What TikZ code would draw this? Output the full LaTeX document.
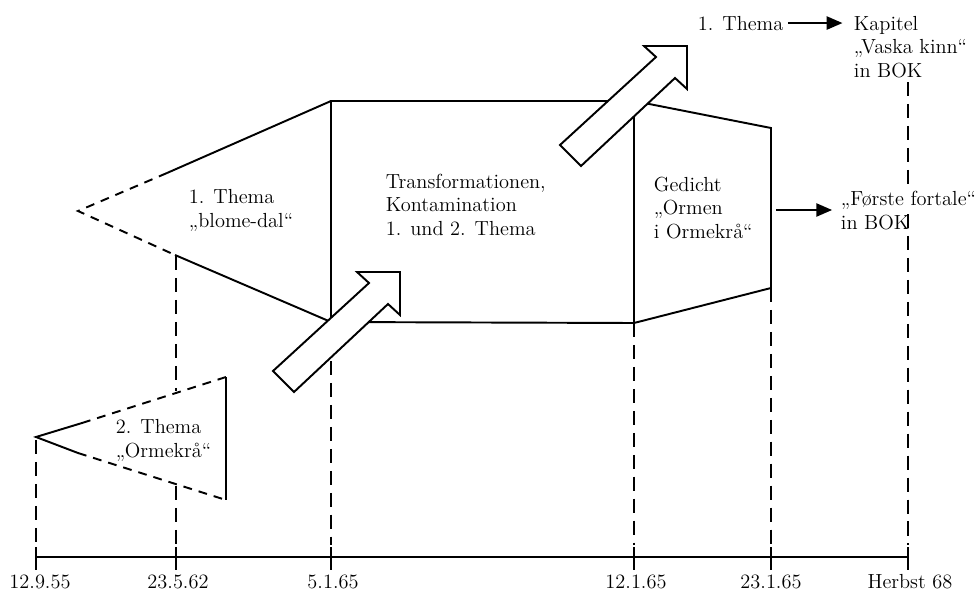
\documentclass[tikz,border=0pt]{standalone}
\usetikzlibrary{arrows.meta,positioning}

\begin{document}
\begin{tikzpicture}[x=0.02cm, y=-0.02cm, line width=1.1pt, font=\fontsize{11.6pt}{13.2pt}\selectfont]
    % Set up styles for lines and labels
    \tikzstyle{guideline} = [line width=1pt, dash pattern=on 8pt off 4.5pt]
    \tikzstyle{themeedge} = [dash pattern=on 5pt off 4pt]
    \tikzstyle{txt} = [align=left, anchor=base west, inner sep=0pt]
    \tikzstyle{pointer} = [-{Triangle[length=9pt,width=7.5pt]}]
    \tikzstyle{blockarrow} = [fill=white, line join=miter]

    \useasboundingbox (0,0) rectangle (978,592);

    % Draw the time axis with ticks and dates
    \draw (36,557) -- (908,557);
    \foreach \x/\lx/\d [count=\i] in {36/40/12.9.55, 176/178/23.5.62, 331/333/5.1.65,
        634/636/12.1.65, 771/771/23.1.65, 908/910/Herbst 68} {
        \draw (\x,547) -- (\x,570);
        \coordinate (t\i) at (\x,545);
        \node[anchor=base] (d\i) at (\lx,588) {\d};
    }

    % First theme, opening to the left
    \draw[themeedge] (167,173) -- (78,211) -- (175,255);
    \draw (167,173) -- (331,101);
    \draw (175,255) -- (331,322);

    % Transformation block and the poem
    \draw (331,322) -- (331,101) -- (634,101) -- (771,128) -- (771,288) -- (634,323) -- cycle;
    \draw (634,101) -- (634,323);

    % Second theme
    \draw (82,423) -- (36,437) -- (78,453);
    \draw[themeedge] (82,423) -- (226,377);
    \draw[themeedge] (78,453) -- (226,500);
    \draw (226,377) -- (226,500);

    % Texts (anchored at the baseline of their last line)
    \node[txt] (th1) at (188,227) {1. Thema\\,,blome-dal``};
    \node[txt] (trans) at (385,235) {Transformationen,\\Kontamination\\1. und 2. Thema};
    \node[txt] (ged) at (653,238) {Gedicht\\,,Ormen\\i Ormekrå``};
    \node[txt] (th2) at (115,457) {2. Thema\\,,Ormekrå``};
    \node[txt] (top) at (697,30) {1. Thema};
    \node[txt] (kap) at (853,77) {Kapitel\\,,Vaska kinn``\\in BOK};
    \node[txt] (fort) at (840,229) {,,Første fortale``\\in BOK};

    % Guide lines down to the dates
    \draw[guideline] (36,440) -- (t1);
    \draw[guideline] (176,256) -- (176,391);
    \draw[guideline] (176,486) -- (t2);
    \draw[guideline] (331,361) -- (t3);
    \draw[guideline] (634,323) -- (t4);
    \draw[guideline] (771,288) -- (t5);
    \draw[guideline] (908,82) -- (908,188);
    \draw[guideline] (908,214) -- (t6);

    % Where the themes go
    \coordinate (gout) at (776,210);
    \draw[pointer, shorten >=6pt] ([xshift=2pt]top.east) -- (top.east -| kap.west);
    \draw[pointer, shorten >=4.5pt] (gout) -- (gout -| fort.west);

    % Hollow arrows
    \foreach \tip in {(400,272),(687,46)}
        \draw[blockarrow, shift={\tip}] (0,0) -- (0,43) -- (-12,32) -- (-106,120)
            -- (-127,99) -- (-31,11) -- (-43,0) -- cycle;
\end{tikzpicture}
\end{document}
